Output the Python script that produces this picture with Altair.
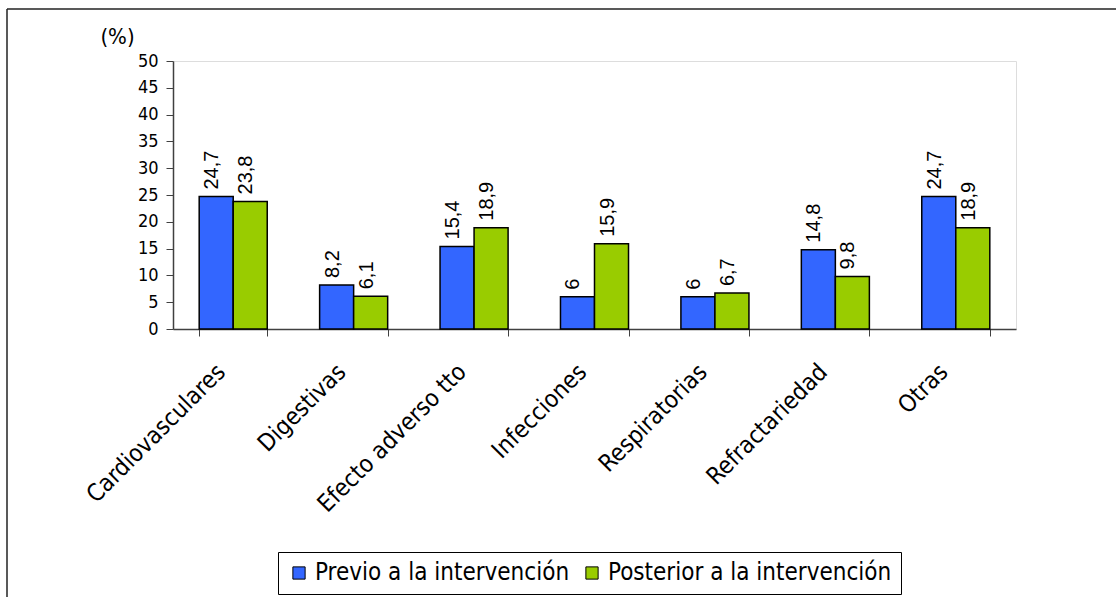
import altair as alt
import pandas as pd

# Causes of death / complications, before and after the intervention (%)
categorias = ["Cardiovasculares", "Digestivas", "Efecto adverso tto", "Infecciones",
              "Respiratorias", "Refractariedad", "Otras"]
previo = [24.7, 8.2, 15.4, 6, 6, 14.8, 24.7]
posterior = [23.8, 6.1, 18.9, 15.9, 6.7, 9.8, 18.9]
series = ["Previo a la intervención", "Posterior a la intervención"]
colores = ["#3366FF", "#99CC00"]
y_ticks = [0, 5, 10, 15, 20, 25, 30, 35, 40, 45, 50]

rows = []
for serie, valores in zip(series, [previo, posterior]):
    for cat, v in zip(categorias, valores):
        rows.append({"categoria": cat, "serie": serie, "valor": v,
                     "etiqueta": f"{v:g}".replace(".", ",")})
df = pd.DataFrame(rows)

AXIS_FONT = "DejaVu Sans Condensed, DejaVu Sans"

x_enc = alt.X(
    "categoria:N", sort=categorias, title=None,
    scale=alt.Scale(paddingInner=0.435, paddingOuter=0.2175),
    axis=alt.Axis(labelAngle=-45, labelAlign="right", labelBaseline="middle",
                  labelPadding=32, labelOffset=-12, tickBand="extent", tickSize=7,
                  labelFont=AXIS_FONT, labelFontSize=24, labelColor="black",
                  labelLimit=400,
                  domainColor="#404040", tickColor="#404040", domainWidth=1.5),
)
xoff = alt.XOffset("serie:N", sort=series, scale=alt.Scale(paddingInner=0, paddingOuter=0))
y_enc = alt.Y(
    "valor:Q", scale=alt.Scale(domain=[0, 50]),
    axis=alt.Axis(values=y_ticks, grid=False, tickSize=7, labelPadding=8,
                  labelFont=AXIS_FONT, labelFontSize=18, labelColor="black",
                  domainColor="#404040", tickColor="#404040", domainWidth=1.5,
                  title="(%)", titleAngle=0, titleX=-56, titleY=-25,
                  titleAlign="center", titleBaseline="middle",
                  titleFont=AXIS_FONT, titleFontSize=22, titleFontWeight="normal",
                  titleColor="black"),
)

bars = alt.Chart(df).mark_bar(stroke="black", strokeWidth=1.5).encode(
    x=x_enc,
    xOffset=xoff,
    y=y_enc,
    color=alt.Color(
        "serie:N", sort=series, title=None,
        scale=alt.Scale(domain=series, range=colores),
        legend=alt.Legend(orient="none", legendX=105, legendY=491,
                          direction="horizontal", strokeColor="black",
                          padding=9, symbolType="square", symbolSize=150,
                          symbolStrokeColor="black", symbolStrokeWidth=1,
                          labelFont=AXIS_FONT, labelFontSize=24,
                          labelColor="black", columnPadding=10,
                          labelLimit=400),
    ),
)

labels = alt.Chart(df).mark_text(
    angle=270, align="left", baseline="alphabetic", dx=7, dy=2,
    font="Liberation Sans", fontSize=20, color="black",
).encode(x=x_enc, xOffset=xoff, y=y_enc, text="etiqueta:N")

# outer frame lines (top and left edges of the figure box)
frame_df = pd.DataFrame({"k": [0]})
frame_top = alt.Chart(frame_df).mark_rule(color="#222222", strokeWidth=1.5).encode(
    x=alt.value(-166), x2=alt.value(943), y=alt.value(-52))
frame_left = alt.Chart(frame_df).mark_rule(color="#222222", strokeWidth=1.5).encode(
    x=alt.value(-166), y=alt.value(-52), y2=alt.value(536))

chart = alt.layer(bars, labels, frame_top, frame_left).properties(
    width=843, height=268,
    autosize=alt.AutoSizeParams(type="none"),
    padding={"left": 173, "top": 61, "right": 100, "bottom": 268},
).configure_view(stroke="#a0a0a0", strokeWidth=1.5).configure(background="white")

chart.save("out.html", embed_options={"renderer": "svg", "actions": False})
